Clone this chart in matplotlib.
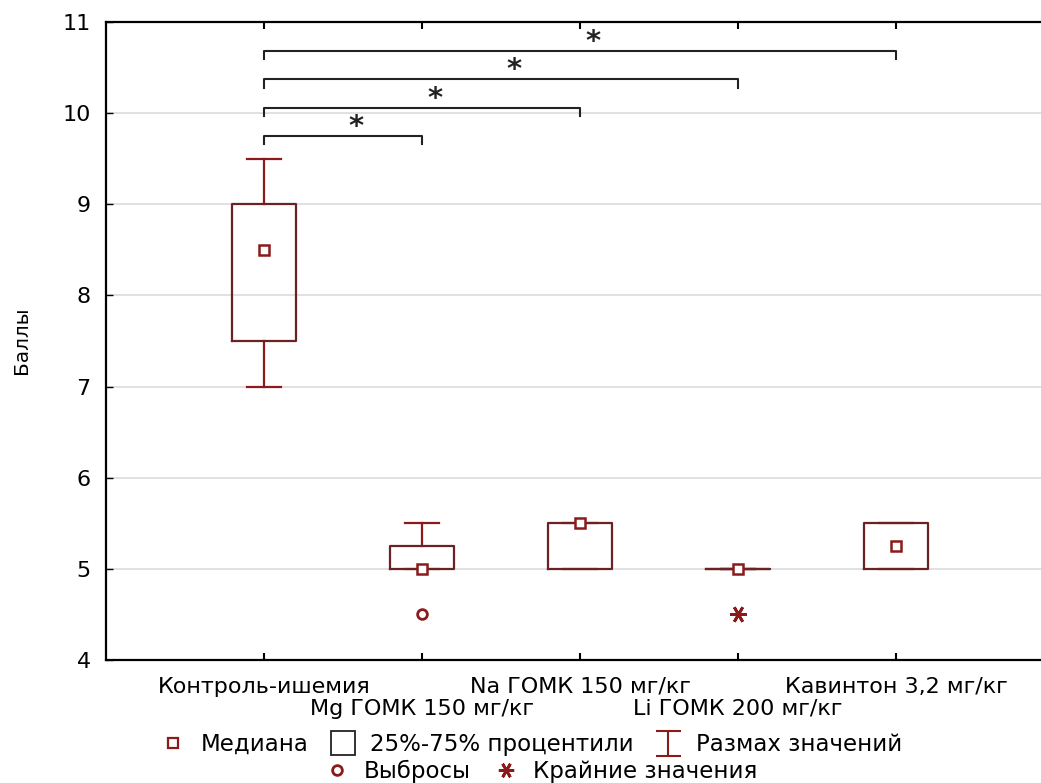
import matplotlib.pyplot as plt
import numpy as np
from matplotlib.lines import Line2D
from matplotlib.path import Path

plt.rcParams['font.family'] = ['DejaVu Sans']

# данные (баллы)
groups = ['Контроль-ишемия', 'Mg ГОМК 150 мг/кг', 'Na ГОМК 150 мг/кг',
          'Li ГОМК 200 мг/кг', 'Кавинтон 3,2 мг/кг']
med = [8.5, 5.0, 5.5, 5.0, 5.25]
q1 = [7.5, 5.0, 5.0, 5.0, 5.0]
q3 = [9.0, 5.25, 5.5, 5.0, 5.5]
wlo = [7.0, 5.0, 5.0, 5.0, 5.0]
whi = [9.5, 5.5, 5.5, 5.0, 5.5]
outl_x = [2]
outl_y = [4.5]
extr_x = [4]
extr_y = [4.5]

# значимые отличия от контроля (*)
sig_to = [2, 3, 4, 5]
sig_y = [9.75, 10.06, 10.37, 10.68]

box_c = '#6b2224'
red = '#8b1a1a'

fig = plt.figure(figsize=(10.41, 7.83), dpi=100)
ax = fig.add_axes([0.1018, 0.1571, 0.9107, 0.8148])

pos = np.arange(1, len(groups) + 1)
stats = []
for i in range(len(groups)):
    stats.append(dict(med=med[i], q1=q1[i], q3=q3[i], whislo=wlo[i], whishi=whi[i], fliers=[]))

ax.bxp(stats, positions=pos, widths=0.4, showfliers=False,
       boxprops=dict(color=box_c, lw=1.6, zorder=4),
       whiskerprops=dict(color=red, lw=1.6, zorder=2),
       capprops=dict(color=red, lw=1.6, zorder=2),
       medianprops=dict(linestyle='none'), capwidths=0.22)

ax.plot(pos, med, ls='none', marker='s', ms=7, mfc='white', mec=red, mew=1.8, zorder=5)
ax.plot(outl_x, outl_y, ls='none', marker='o', ms=7, mfc='white', mec=red, mew=2, zorder=5)
ax.plot(extr_x, extr_y, ls='none', marker=(6, 2, 90), ms=12, color=red, mew=2, zorder=5)

# скобки значимости
for xe, ys in zip(sig_to, sig_y):
    ax.plot([1, 1, xe, xe], [ys - 0.09, ys, ys, ys - 0.09], color='#222222', lw=1.5)
    ax.text((1 + xe) / 2 + 0.08, ys + 0.1, '*', ha='center', va='center',
            fontsize=21, fontweight='bold', color='#222222')

ax.set_xlim(0, 6)
ax.set_ylim(4, 11)
ax.set_yticks(range(4, 12))
ax.yaxis.grid(True, color='#dcdcdc', lw=1.2)
ax.set_axisbelow(True)

# подписи в два ряда
ax.xaxis.remove_overlapping_locs = False
ax.set_xticks(pos)
ax.set_xticklabels([g if i % 2 == 0 else '' for i, g in enumerate(groups)], fontsize=16)
ax.set_xticks(pos[1::2], minor=True)
ax.set_xticklabels(groups[1::2], minor=True, fontsize=16)
ax.tick_params(axis='x', which='major', direction='in', top=True, length=5, width=1.5, pad=12)
ax.tick_params(axis='x', which='minor', direction='in', length=0, pad=28)
ax.tick_params(axis='y', direction='in', length=5, width=1, labelsize=16, pad=11)
for s in ax.spines.values():
    s.set_linewidth(1.6)

fig.text(0.021, 0.566, 'Баллы', rotation=90, ha='center', va='center', fontsize=14.5)

# легенда
ibeam = Path([(-1, 1), (1, 1), (0, 1), (0, -1), (-1, -1), (1, -1)],
             [Path.MOVETO, Path.LINETO, Path.MOVETO, Path.LINETO, Path.MOVETO, Path.LINETO])
h1 = [Line2D([], [], ls='none', marker='s', ms=7, mfc='white', mec=red, mew=1.6),
      Line2D([], [], ls='none', marker='s', ms=17, mfc='white', mec='#222222', mew=1.3),
      Line2D([], [], ls='none', marker=ibeam, ms=18, mec=red, mew=1.5)]
l1 = ['Медиана', '25%-75% процентили', 'Размах значений']
h2 = [Line2D([], [], ls='none', marker='o', ms=7, mfc='white', mec=red, mew=2),
      Line2D([], [], ls='none', marker=(6, 2, 90), ms=11, color=red, mew=2)]
l2 = ['Выбросы', 'Крайние значения']
fig.legend(h1, l1, ncol=3, loc='center', bbox_to_anchor=(0.511, 0.049), frameon=False,
           fontsize=16.5, handlelength=1, handletextpad=0.7, columnspacing=1.0)
fig.legend(h2, l2, ncol=2, loc='center', bbox_to_anchor=(0.52, 0.015), frameon=False,
           fontsize=16.5, handlelength=1, handletextpad=0.7, columnspacing=1.0)

fig.savefig('out.png', dpi=100)
